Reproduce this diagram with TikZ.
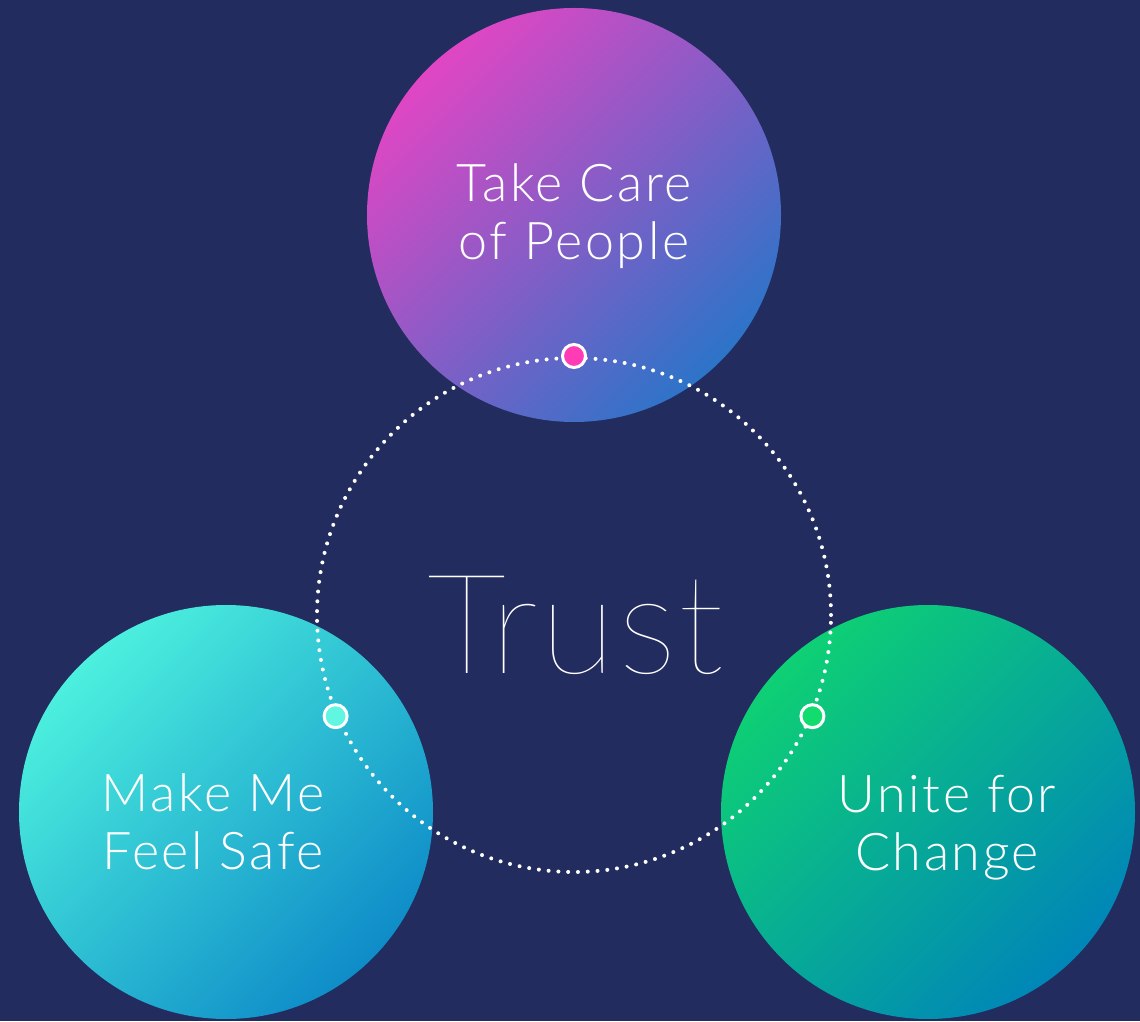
\documentclass[tikz,border=0pt]{standalone}
\usepackage{fontspec}
\usepackage{xcolor}
\usepackage{tikz}
\usetikzlibrary{shapes}
\setmainfont{Lato Light}[LetterSpace=5]
\newfontfamily\trustfont{Lato Hairline}[LetterSpace=1.5]

\definecolor{navy}{HTML}{222C5E}
\definecolor{pinkA}{HTML}{E046C4}
\definecolor{pinkB}{HTML}{2C74C8}
\definecolor{cyanA}{HTML}{4CF0DE}
\definecolor{cyanB}{HTML}{0E8CC8}
\definecolor{greenA}{HTML}{0ED074}
\definecolor{greenB}{HTML}{0086B8}
\definecolor{pinkdot}{HTML}{FF3CB6}
\definecolor{cyandot}{HTML}{60F6E2}
\definecolor{greendot}{HTML}{12DC6E}

\tikzset{
	big node/.style={circle,minimum size=414pt,inner sep=0pt,shading angle=45},
	ring/.style={circle,minimum size=514pt,inner sep=0pt,draw=white,line width=4pt,
		line cap=round,dash pattern=on 0pt off 9.8pt},
	knot/.style={circle,minimum size=23pt,inner sep=0pt,draw=white,line width=3pt},
	word/.style={text=white,align=center,font=\fontsize{52}{58}\selectfont,inner sep=0pt}
}

\begin{document}
\begin{tikzpicture}[x=1pt,y=1pt]
		    \fill[navy] (0,0) rectangle (1140,1021);
		    \useasboundingbox (0,0) rectangle (1140,1021);
		    % three circles
		    \node [big node,top color=pinkA,bottom color=pinkB,shading angle=45] (care) at (574,806) {};
		    \node [big node,top color=cyanA,bottom color=cyanB,shading angle=45] (safe) at (226,209) {};
		    \node [big node,top color=greenA,bottom color=greenB,shading angle=45] (unite) at (928,209) {};
		    % dotted ring
		    \node [ring] (trust) at (574,406) {};
		    \node [word] (t1) at (574,805) {Take Care\\of People};
		    \node [word] (t2) at (213,199) {Make Me\\Feel Safe};
		    \node [word] (t3) at (947,193) {Unite for\\Change};
		    \node [text=white,anchor=base,inner sep=0pt,font=\trustfont\fontsize{139}{150}\selectfont] (t0) at (576,348) {Trust};
		    % knots on the ring
		    \node [knot,fill=pinkdot] (k1) at (trust.90) {};
		    \node [knot,fill=cyandot] (k2) at (trust.203) {};
		    \node [knot,fill=greendot] (k3) at (trust.337) {};
		  \end{tikzpicture}
\end{document}
